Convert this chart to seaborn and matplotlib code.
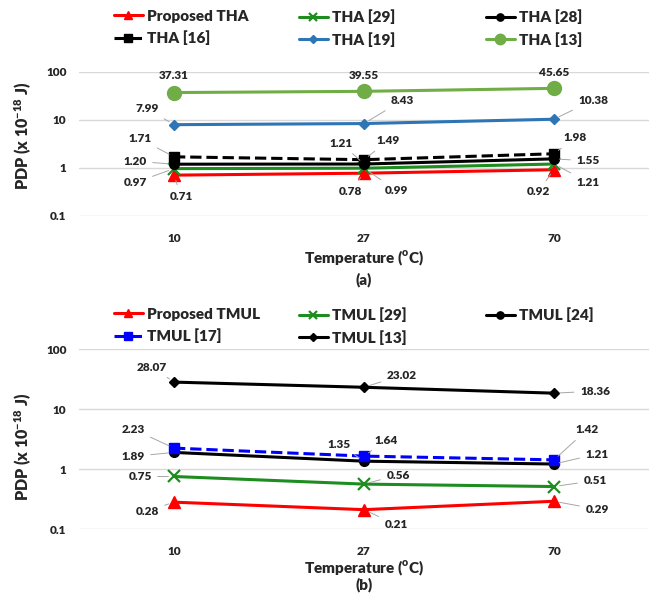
import matplotlib
matplotlib.use("Agg")
import matplotlib.pyplot as plt
import pandas as pd
import seaborn as sns

# data
temps = ["10", "27", "70"]

tha_names = ["Proposed THA", "THA [29]", "THA [28]", "THA [16]", "THA [19]", "THA [13]"]
tha_proposed = [0.71, 0.78, 0.92]
tha_29 = [0.97, 0.99, 1.21]
tha_28 = [1.20, 1.21, 1.55]
tha_16 = [1.71, 1.49, 1.98]
tha_19 = [7.99, 8.43, 10.38]
tha_13 = [37.31, 39.55, 45.65]

tmul_names = ["Proposed TMUL", "TMUL [29]", "TMUL [24]", "TMUL [17]", "TMUL [13]"]
tmul_proposed = [0.28, 0.21, 0.29]
tmul_29 = [0.75, 0.56, 0.51]
tmul_24 = [1.89, 1.35, 1.21]
tmul_17 = [2.23, 1.64, 1.42]
tmul_13 = [28.07, 23.02, 18.36]

sns.set_style("white")
plt.rcParams["font.family"] = ["Lato", "DejaVu Sans"]
plt.rcParams["font.weight"] = "heavy"
plt.rcParams["mathtext.fontset"] = "custom"
plt.rcParams["mathtext.rm"] = "Lato:heavy"
plt.rcParams["mathtext.bf"] = "Lato:heavy"

WT = "heavy"
W, H = 656, 601
fig = plt.figure(figsize=(W / 100, H / 100), dpi=100)


def px_axes(left, top, right, bottom):
    return fig.add_axes([left / W, 1 - bottom / H, (right - left) / W, (bottom - top) / H])


ax_a = px_axes(79, 72, 649, 216)
ax_b = px_axes(79, 349, 649, 529)

# styles per series: color, marker, markersize, linestyle
tha_styles = [
    ("#FF0000", "^", 8, "-"),
    ("#1E8C1E", "x", 8, "-"),
    ("#000000", "o", 7, "-"),
    ("#000000", "s", 7, "--"),
    ("#2E75B6", "D", 5, "-"),
    ("#70AD47", "o", 10, "-"),
]
tmul_styles = [
    ("#FF0000", "^", 8, "-"),
    ("#1E8C1E", "x", 8, "-"),
    ("#000000", "o", 7, "-"),
    ("#0000FF", "s", 7, "--"),
    ("#000000", "D", 5, "-"),
]

# label offsets in pixels (dx, dy) for each series / point
tha_offsets = [
    [(7, -21), (-14, -18), (-16, -22)],
    [(-39, -14), (32, -22), (34, -18)],
    [(-39, 3), (-23, 21), (34, -2)],
    [(-34, 18), (24, 19), (21, 16)],
    [(-27, 16), (38, 23), (39, 19)],
    [(0, 17), (0, 16), (0, 16)],
]
tmul_offsets = [
    [(-27, -9), (32, -15), (43, -8)],
    [(-34, 0), (34, 9), (41, 6)],
    [(-41, -4), (-25, 17), (43, 10)],
    [(-41, 19), (22, 16), (33, 30)],
    [(-22, 15), (38, 12), (41, 2)],
]


def draw_panel(ax, names, series, styles, offsets, no_leader=()):
    pos = list(range(len(temps)))
    for name, vals, (col, mk, ms, ls) in zip(names, series, styles):
        df = pd.DataFrame({"x": pos, "y": vals})
        sns.lineplot(data=df, x="x", y="y", ax=ax, color=col, marker=mk, markersize=ms,
                     markeredgecolor=col, markeredgewidth=1.6 if mk == "x" else 1,
                     linewidth=2.2, linestyle=ls, label=name, legend=False)
    for i, (vals, offs) in enumerate(zip(series, offsets)):
        for p, v, (dx, dy) in zip(pos, vals, offs):
            props = None if i in no_leader else dict(arrowstyle="-", color="#a6a6a6", lw=0.7,
                                                      shrinkB=4)
            ax.annotate("%.2f" % v, xy=(p, v), xytext=(dx, dy), textcoords="offset pixels",
                        ha="center", va="center", fontsize=8.5, fontweight=WT,
                        arrowprops=props)
    ax.set_yscale("log")
    ax.set_ylim(0.1, 100)
    ax.set_xlim(-0.5, 2.5)
    ax.set_yticks([0.1, 1, 10, 100])
    ax.set_yticklabels(["0.1", "1", "10", "100"])
    ax.minorticks_off()
    ax.set_xticks(pos)
    ax.set_xticklabels(temps)
    ax.tick_params(axis="both", length=0, labelsize=8.5)
    ax.tick_params(axis="y", pad=9)
    ax.tick_params(axis="x", pad=12)
    for lab in ax.get_xticklabels() + ax.get_yticklabels():
        lab.set_fontweight(WT)
    ax.grid(axis="y", color="#d9d9d9", linewidth=1)
    ax.grid(axis="x", visible=False)
    ax.set_axisbelow(True)
    for s in ax.spines.values():
        s.set_visible(False)
    ax.set_xlabel("Temperature ($^{\\mathbf{o}}$C)", fontsize=11, fontweight=WT, va="center")
    ax.set_ylabel("PDP (x 10$^{\\mathbf{-18}}$ J)", fontsize=11.5, fontweight=WT, va="center")


draw_panel(ax_a, tha_names, [tha_proposed, tha_29, tha_28, tha_16, tha_19, tha_13],
           tha_styles, tha_offsets, no_leader=(5,))
draw_panel(ax_b, tmul_names, [tmul_proposed, tmul_29, tmul_24, tmul_17, tmul_13],
           tmul_styles, tmul_offsets)

ax_a.yaxis.set_label_coords(-0.098, 0.555)
ax_b.yaxis.set_label_coords(-0.098, 0.456)
ax_a.xaxis.set_label_coords(0.5, -0.292)
ax_b.xaxis.set_label_coords(0.5, -0.222)
ax_a.text(0.5, -0.444, "(a)", transform=ax_a.transAxes, ha="center", va="center",
          fontsize=11, fontweight=WT)
ax_b.text(0.5, -0.311, "(b)", transform=ax_b.transAxes, ha="center", va="center",
          fontsize=11, fontweight=WT)


def column_legends(ax, groups, top_px, xs_px):
    handles, labels = ax.get_legend_handles_labels()
    lookup = dict(zip(labels, handles))
    for names, x in zip(groups, xs_px):
        fig.legend([lookup[n] for n in names], names, loc="upper left",
                   bbox_to_anchor=(x / W, 1 - top_px / H), bbox_transform=fig.transFigure,
                   frameon=True, facecolor="white", edgecolor="none", framealpha=1,
                   prop={"weight": WT, "size": 11},
                   handlelength=1.9, handletextpad=0.3, labelspacing=0.5,
                   borderpad=0.3, borderaxespad=0, markerscale=0.75)


column_legends(ax_a, [["Proposed THA", "THA [16]"], ["THA [29]", "THA [19]"],
                      ["THA [28]", "THA [13]"]], 5, [109, 294, 481])
column_legends(ax_b, [["Proposed TMUL", "TMUL [17]"], ["TMUL [29]", "TMUL [13]"],
                      ["TMUL [24]"]], 303, [109, 294, 481])

fig.savefig("out.png", dpi=100, facecolor="white")
